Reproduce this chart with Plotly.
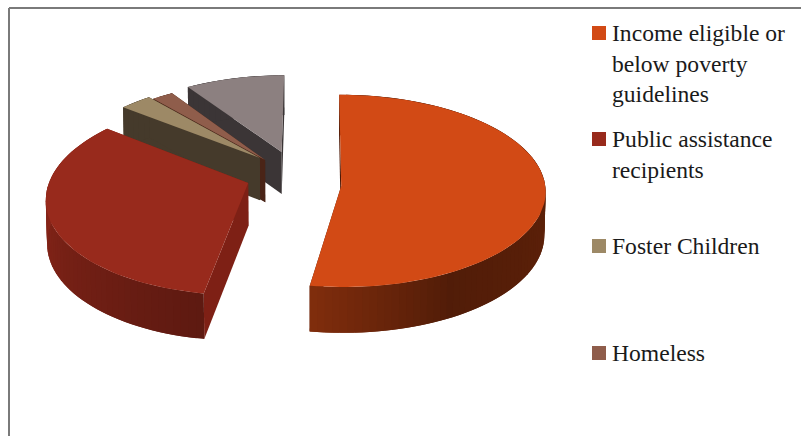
import numpy as np
import plotly.graph_objects as go

# Share of children by eligibility category (percent), clockwise from 12 o'clock
categories = ["Income eligible or<br>below poverty<br>guidelines",
              "Public assistance<br>recipients",
              "Foster Children",
              "Homeless",
              "Other"]
shares = [52.5, 33.0, 3.0, 2.0, 9.5]

# Colours of the top faces and the radial side faces
top_colors = ["#d24a15", "#982a1c", "#9d8966", "#8f5d4b", "#8c8080"]
side_colors = ["#4e1a07", "#7e2015", "#453a2b", "#4a2417", "#3b3536"]

# Ground-plane offset of each exploded slice
offset_x = [0.202, -0.260, -0.205, -0.178, -0.095]
offset_y = [-0.006, 0.025, 0.288, 0.267, 0.355]

# Per-slice view settings: tilt, perspective and width
slice_tilt = [0.470, 0.485, 0.488, 0.488, 0.488]
slice_persp = [0.050, 0.140, 0.170, 0.170, 0.170]
slice_scale = [204.0, 200.0, 205.0, 205.0, 205.0]

# Legend layout: first-line centre of each row, in pixels
legend_rows = [33, 139, 246, 353]
LINE_STEP = 30.5

CX, CY, DEPTH = 300.0, 185.5, 43.0

# Lightness of the outer wall as a function of its clockwise angle
wall_angle = [0, 90, 150, 190, 270, 360]
wall_light = [0.45, 0.45, 0.39, 0.62, 0.90, 0.90]


def project(i, gx, gy, z=0.0):
    w = 1.0 + slice_persp[i] * gy
    sx = CX + slice_scale[i] * gx / (w + 0.005 * z)
    sy = CY - slice_scale[i] * slice_tilt[i] * gy / w + DEPTH * z / (1.0 + 0.06 * gy)
    return sx, sy


def shade(color, f):
    r, g, b = (int(color[i:i + 2], 16) for i in (1, 3, 5))
    return f"rgb({int(r * f)},{int(g * f)},{int(b * f)})"


def polygon(xs, ys, color):
    return go.Scatter(x=list(xs) + [xs[0]], y=list(ys) + [ys[0]], mode="lines",
                      fill="toself", fillcolor=color,
                      line=dict(color=color, width=0), hoverinfo="skip",
                      showlegend=False)


fig = go.Figure()

edges = np.concatenate([[0], np.cumsum(shares)]) * 3.6
draw_order = [4, 3, 2, 1, 0]

for i in draw_order:
    a0, a1 = edges[i], edges[i + 1]
    ox, oy = offset_x[i], offset_y[i]
    angles = np.linspace(a0, a1, max(3, int((a1 - a0) / 2.0) + 1))
    rim_x = ox + np.sin(np.radians(angles))
    rim_y = oy + np.cos(np.radians(angles))

    # Radial side faces, painted first so the top face hides whatever faces away
    for rx, ry in ((rim_x[0], rim_y[0]), (rim_x[-1], rim_y[-1])):
        px, py = zip(project(i, ox, oy), project(i, rx, ry),
                     project(i, rx, ry, 1), project(i, ox, oy, 1))
        fig.add_trace(polygon(px, py, side_colors[i]))

    # Outer wall: each strip runs past the next one, so later strips overpaint
    # the seam and the shading stays continuous along the rim
    n = len(angles)
    for j in range(n - 1):
        mid = (angles[j] + angles[j + 1]) / 2
        col = side_colors[i] if i >= 2 else shade(top_colors[i], float(np.interp(mid, wall_angle, wall_light)))
        k = min(j + 2, n - 1)
        upper = [project(i, rim_x[m], rim_y[m]) for m in range(j, k + 1)]
        lower = [project(i, rim_x[m], rim_y[m], 1) for m in range(k, j - 1, -1)]
        px, py = zip(*(upper + lower))
        fig.add_trace(polygon(px, py, col))

    # Top face
    tx, ty = project(i, np.r_[ox, rim_x], np.r_[oy, rim_y])
    fig.add_trace(polygon(tx, ty, top_colors[i]))

# Legend swatches and labels
for row, name, color in zip(legend_rows, categories[:4], top_colors[:4]):
    fig.add_trace(go.Scatter(x=[599], y=[row], mode="markers", hoverinfo="skip", showlegend=False,
                             marker=dict(symbol="square", size=14, color=color, line=dict(width=0))))
    for n, line in enumerate(name.split("<br>")):
        fig.add_annotation(x=611, y=row + n * LINE_STEP, text=line, showarrow=False,
                           xanchor="left", yanchor="middle", align="left",
                           xref="x", yref="y", borderpad=0,
                           font=dict(family="Liberation Serif", size=23.6, color="#1a1a1a"))

# Chart frame: only the top and left edges fall inside the page
for x0, y0, x1, y1 in ((9, 8, 801, 8), (9, 8, 9, 436)):
    fig.add_shape(type="line", x0=x0, y0=y0, x1=x1, y1=y1, xref="x", yref="y",
                  line=dict(color="#7a7a7a", width=2))

fig.update_layout(
    width=801, height=436, margin=dict(l=0, r=0, t=0, b=0), autosize=False,
    paper_bgcolor="white", plot_bgcolor="white", showlegend=False,
    xaxis=dict(range=[0, 801], visible=False, fixedrange=True),
    yaxis=dict(range=[436, 0], visible=False, fixedrange=True),
)

fig.write_html("out.html", config={"displayModeBar": False})
